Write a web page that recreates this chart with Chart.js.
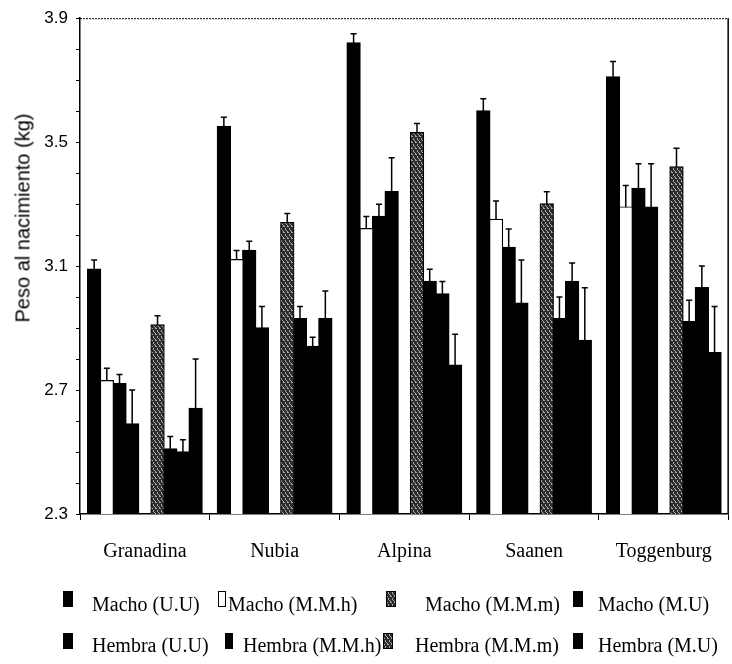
<!DOCTYPE html>
<html><head><meta charset="utf-8">
<script src="https://cdn.jsdelivr.net/npm/chart.js@4"></script>
<style>
html,body{margin:0;padding:0;background:#fff;}
#wrap{position:relative;width:732px;height:664px;overflow:hidden;background:#fff;}
canvas{position:absolute;left:0;top:0;}
#ytitle{position:absolute;left:23px;top:218px;transform:translate(-50%,-50%) rotate(-90deg);font:20px "Liberation Sans",Arial,sans-serif;white-space:nowrap;color:#000;}
.lg{position:absolute;font:20px "Liberation Serif","Times New Roman",serif;white-space:nowrap;color:#000;line-height:20px;}
.ic{position:absolute;box-sizing:border-box;}
</style></head><body>
<div id="wrap"><canvas id="c" width="732" height="664"></canvas><div id="ytitle"></div></div>
<script>
// ---- data ----
const categories = ['Granadina','Nubia','Alpina','Saanen','Toggenburg'];
const seriesLabels = ['Macho (U.U)','Macho (M.M.h)','Macho (M.M.m)','Macho (M.U)','Hembra (U.U)','Hembra (M.M.h)','Hembra (M.M.m)','Hembra (M.U)'];
const machoUU    = [3.09, 3.55, 3.82, 3.60, 3.71];
const machoMMh   = [2.73, 3.12, 3.22, 3.25, 3.29];
const machoMMm   = [2.72, 3.15, 3.26, 3.16, 3.35];
const machoMU    = [2.59, 2.90, 3.34, 2.98, 3.29];
const hembraUU   = [2.91, 3.24, 3.53, 3.30, 3.42];
const hembraMMh  = [2.51, 2.93, 3.05, 2.93, 2.92];
const hembraMMm  = [2.50, 2.84, 3.01, 3.05, 3.03];
const hembraMU   = [2.64, 2.93, 2.78, 2.86, 2.82];
const errMachoUU   = [0.03, 0.03, 0.03, 0.04, 0.05];
const errMachoMMh  = [0.04, 0.03, 0.04, 0.06, 0.07];
const errMachoMMm  = [0.03, 0.03, 0.04, 0.06, 0.08];
const errMachoMU   = [0.11, 0.07, 0.11, 0.14, 0.14];
const errHembraUU  = [0.03, 0.03, 0.03, 0.04, 0.06];
const errHembraMMh = [0.04, 0.04, 0.04, 0.07, 0.07];
const errHembraMMm = [0.04, 0.03, 0.04, 0.06, 0.07];
const errHembraMU  = [0.16, 0.09, 0.10, 0.17, 0.15];
const yTickLabels = ['2.3','2.7','3.1','3.5','3.9'];
const yTitle = 'Peso al nacimiento (kg)';

// ---- styles ----
const patCanvas = document.createElement('canvas');
patCanvas.width = 4; patCanvas.height = 6;
(function(){
  const g = patCanvas.getContext('2d');
  g.fillStyle = '#2c2c2c'; g.fillRect(0,0,4,6);
  g.fillStyle = '#a8a8a8';
  g.fillRect(1,0,1,2); g.fillRect(3,3,1,2); g.fillRect(0,4,1,1); g.fillRect(2,2,1,1);
})();
const pattern = document.getElementById('c').getContext('2d').createPattern(patCanvas,'repeat');

const values = [machoUU, machoMMh, machoMMm, machoMU, hembraUU, hembraMMh, hembraMMm, hembraMU];
const errors = [errMachoUU, errMachoMMh, errMachoMMm, errMachoMU, errHembraUU, errHembraMMh, errHembraMMm, errHembraMU];
const barFills = ['#000','#fff','#000','#000',pattern,'#000','#000','#000'];
const iconFills = ['#000','#fff','pat','#000','#000','#000','pat','#000'];

const datasets = [];
values.forEach((v,i)=>{
  if (i === 4) {
    datasets.push({label:'', data: categories.map(()=>null), backgroundColor:'rgba(0,0,0,0)', spacer:true});
  }
  datasets.push({
    label: seriesLabels[i], data: v, errors: errors[i],
    backgroundColor: barFills[i], borderColor:'#000', borderWidth: 1.2, inflateAmount: 0.8
  });
});

const errorPlugin = {
  id:'errbars',
  afterDatasetsDraw(chart){
    const ctx = chart.ctx, y = chart.scales.y;
    chart.data.datasets.forEach((ds,i)=>{
      if (!ds.errors) return;
      const meta = chart.getDatasetMeta(i);
      meta.data.forEach((bar,j)=>{
        const v = ds.data[j]; if (v == null) return;
        const top = y.getPixelForValue(v + ds.errors[j]);
        ctx.save();
        ctx.strokeStyle = '#000'; ctx.lineWidth = 1.5;
        ctx.beginPath();
        ctx.moveTo(bar.x, bar.y); ctx.lineTo(bar.x, top);
        ctx.moveTo(bar.x-3, top); ctx.lineTo(bar.x+3, top);
        ctx.stroke();
        ctx.restore();
      });
    });
  }
};
const framePlugin = {
  id:'frame',
  afterDraw(chart){
    const a = chart.chartArea, ctx = chart.ctx;
    ctx.save();
    ctx.strokeStyle = '#000'; ctx.lineWidth = 1;
    ctx.setLineDash([2,1]);
    ctx.beginPath(); ctx.moveTo(a.left, a.top+0.5); ctx.lineTo(a.right, a.top+0.5); ctx.stroke();
    ctx.setLineDash([]);
    ctx.lineWidth = 1.5;
    ctx.beginPath(); ctx.moveTo(a.right-0.5, a.top); ctx.lineTo(a.right-0.5, a.bottom); ctx.stroke();
    ctx.restore();
  }
};

new Chart(document.getElementById('c'), {
  type:'bar',
  data:{ labels: categories, datasets },
  options:{
    responsive:false, animation:false, devicePixelRatio:1,
    layout:{ padding:{ top:15, right:2, bottom:100, left:0 } },
    datasets:{ bar:{ categoryPercentage:0.88, barPercentage:1.0 } },
    plugins:{ legend:{display:false}, tooltip:{enabled:false} },
    scales:{
      x:{
        grid:{ display:true, drawOnChartArea:false, offset:true, tickLength:6, color:'#000', lineWidth:1 },
        border:{ color:'#000', width:1.5 },
        ticks:{ color:'#000', font:{ family:'"Liberation Serif","Times New Roman",serif', size:20 }, padding:20, maxRotation:0, autoSkip:false },
        afterFit(s){ s.height = 50; }
      },
      y:{
        min:2.3, max:3.9,
        ticks:{ stepSize:0.1, autoSkip:false, color:'#000', padding:8,
          font:{ family:'"Liberation Sans",Arial,sans-serif', size:17 },
          callback(v){ const s = (Math.round(v*10)/10).toFixed(1); return yTickLabels.includes(s) ? s : ''; } },
        grid:{ drawOnChartArea:false, tickLength:4, color:'#000', lineWidth:1 },
        border:{ color:'#000', width:1.5 },
        afterFit(s){ s.width = 80; }
      }
    }
  },
  plugins:[errorPlugin, framePlugin]
});

// ---- y title and legend (HTML text) ----
document.getElementById('ytitle').textContent = yTitle;
const legendLayout = [
  {ix:63, iw:10, tx:92, iy:591, ty:594},
  {ix:218, iw:8, tx:228, iy:591, ty:594},
  {ix:386, iw:10, tx:425, iy:591, ty:594},
  {ix:573, iw:10, tx:598, iy:591, ty:594},
  {ix:63, iw:10, tx:92, iy:633, ty:635},
  {ix:225, iw:8, tx:243, iy:633, ty:635},
  {ix:383, iw:10, tx:415, iy:633, ty:635},
  {ix:573, iw:10, tx:598, iy:633, ty:635}
];
const wrap = document.getElementById('wrap');
const patURL = patCanvas.toDataURL();
seriesLabels.forEach((lab,i)=>{
  const L = legendLayout[i];
  const ic = document.createElement('div');
  ic.className = 'ic';
  ic.style.left = L.ix+'px'; ic.style.top = L.iy+'px';
  ic.style.width = L.iw+'px'; ic.style.height = '16px';
  ic.style.border = '1.5px solid #000';
  if (iconFills[i] === 'pat') ic.style.backgroundImage = 'url('+patURL+')';
  else ic.style.background = iconFills[i];
  wrap.appendChild(ic);
  const t = document.createElement('div');
  t.className = 'lg'; t.textContent = lab;
  t.style.left = L.tx+'px'; t.style.top = L.ty+'px';
  wrap.appendChild(t);
});
</script>
</body></html>
